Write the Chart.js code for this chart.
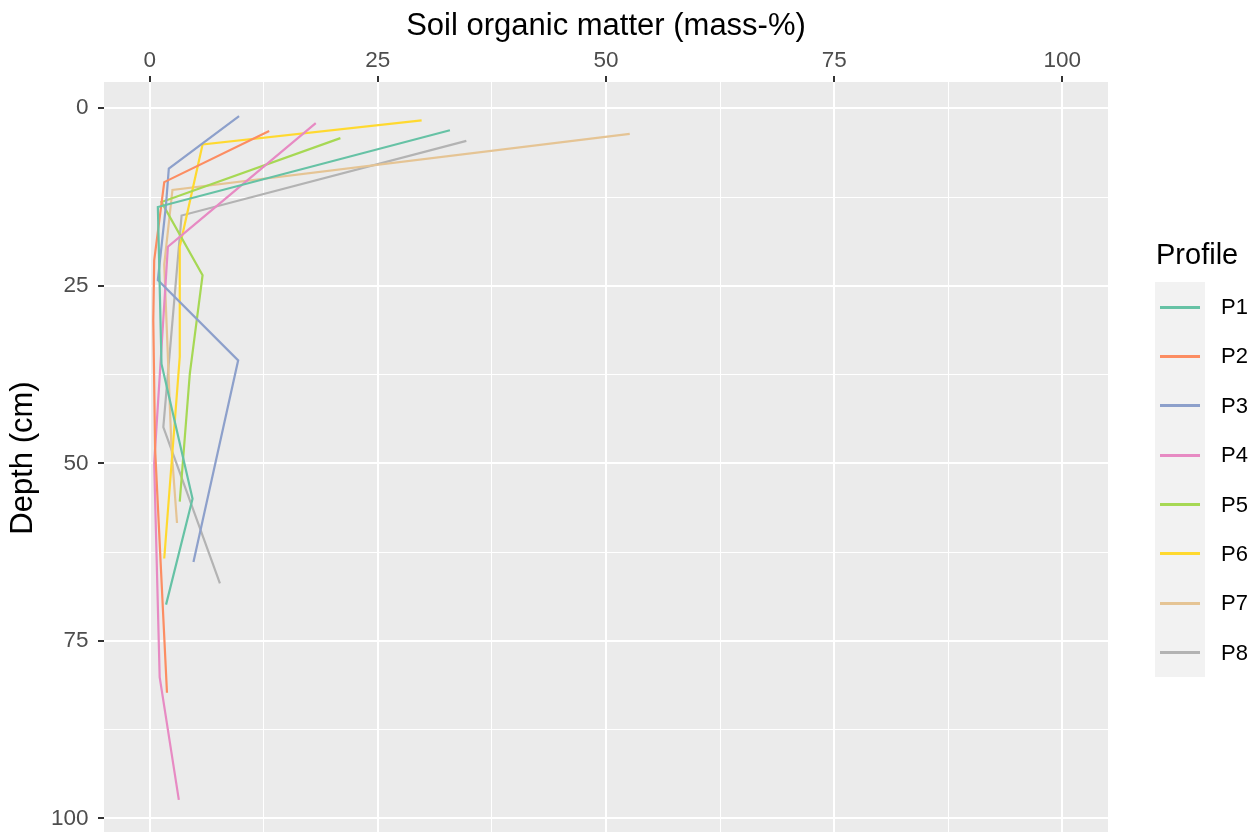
<!DOCTYPE html>
<html>
<head>
<meta charset="utf-8">
<script src="https://cdn.jsdelivr.net/npm/chart.js@4.4.1/dist/chart.umd.min.js"></script>
<style>
  html, body { margin: 0; padding: 0; background: #ffffff; overflow: hidden; width: 1260px; height: 832px; }
  #wrap { position: relative; width: 1260px; height: 840px; }
  #c { position: absolute; left: 0; top: 0; }
  #legend { position: absolute; left: 1155px; top: 232px; font-family: "Liberation Sans", Arial, sans-serif; }
  #legend .ttl { font-size: 29px; color: #000; height: 50px; line-height: 44px; margin-left: 1px; }
  #legend .keys { position: absolute; left: 0; top: 50px; width: 50px; background: #F2F2F2; }
  #legend .row { position: relative; height: 49.4px; }
  #legend .row .ln { position: absolute; left: 5px; width: 40px; height: 3px; top: 23.5px; }
  #legend .lbl { position: absolute; left: 66px; font-size: 22px; color: #000; height: 49.4px; line-height: 49.4px; white-space: nowrap; }
</style>
</head>
<body>
<div id="wrap">
  <canvas id="c" width="1260" height="840"></canvas>
  <div id="legend"></div>
</div>
<script>
// ---- data ----
const profiles = ['P1', 'P2', 'P3', 'P4', 'P5', 'P6', 'P7', 'P8'];
const colors   = ['#66C2A5', '#FC8D62', '#8DA0CB', '#E78AC3', '#A6D854', '#FFD92F', '#E5C494', '#B3B3B3'];

const p1Som   = [32.9, 0.9, 1.3, 4.7, 1.8];
const p1Depth = [3.1, 13.9, 36.0, 55.0, 69.9];
const p2Som   = [13.1, 1.6, 0.5, 0.4, 0.6, 1.9];
const p2Depth = [3.2, 10.4, 21.4, 29.9, 48.0, 82.3];
const p3Som   = [9.8, 2.1, 1.8, 0.9, 9.7, 4.8];
const p3Depth = [1.1, 8.5, 13.5, 24.2, 35.5, 63.9];
const p4Som   = [18.2, 3.5, 2.0, 0.5, 1.1, 3.2];
const p4Depth = [2.1, 17.9, 19.5, 50.0, 80.1, 97.4];
const p5Som   = [20.9, 1.3, 5.8, 4.4, 3.3];
const p5Depth = [4.2, 13.2, 23.5, 37.4, 55.4];
const p6Som   = [29.8, 5.8, 3.3, 3.3, 1.6];
const p6Depth = [1.7, 5.1, 19.5, 35.0, 63.4];
const p7Som   = [52.6, 2.5, 1.6, 2.4, 3.0];
const p7Depth = [3.6, 11.5, 22.0, 48.0, 58.4];
const p8Som   = [34.7, 3.5, 1.5, 7.7];
const p8Depth = [4.6, 15.1, 44.9, 66.9];

const somSeries   = [p1Som, p2Som, p3Som, p4Som, p5Som, p6Som, p7Som, p8Som];
const depthSeries = [p1Depth, p2Depth, p3Depth, p4Depth, p5Depth, p6Depth, p7Depth, p8Depth];

const xTickLabels = [0, 25, 50, 75, 100];
const yTickLabels = [0, 25, 50, 75, 100];
const xTitle = 'Soil organic matter (mass-%)';
const yTitle = 'Depth (cm)';
const legendTitle = 'Profile';

// ---- chart ----
const FONT = '"Liberation Sans", Arial, sans-serif';
const datasets = profiles.map((p, i) => ({
  label: p,
  data: somSeries[i].map((v, k) => ({ x: v, y: depthSeries[i][k] })),
  borderColor: colors[i],
  backgroundColor: colors[i],
  borderWidth: 2.2,
  pointRadius: 0,
  pointHoverRadius: 0,
  showLine: true,
  fill: false,
  tension: 0
}));

function withMinor(list) {
  const out = [];
  for (let i = 0; i < list.length; i++) {
    out.push({ value: list[i] });
    if (i < list.length - 1) out.push({ value: (list[i] + list[i + 1]) / 2 });
  }
  return out;
}
const isMajor = (list, v) => list.indexOf(v) !== -1;
const noPad = s => { s.paddingTop = 0; s.paddingBottom = 0; s.paddingLeft = 0; s.paddingRight = 0; };

const bgPlugin = {
  id: 'panelBg',
  beforeDraw(chart) {
    const { ctx, chartArea: a } = chart;
    ctx.save();
    ctx.fillStyle = '#EBEBEB';
    ctx.fillRect(a.left, a.top, a.right - a.left, a.bottom - a.top);
    ctx.restore();
  }
};

new Chart(document.getElementById('c'), {
  type: 'scatter',
  data: { datasets },
  plugins: [bgPlugin],
  options: {
    responsive: false,
    animation: false,
    devicePixelRatio: 1,
    layout: { padding: { left: 0, top: 0, right: 152, bottom: 6 } },
    plugins: { legend: { display: false }, tooltip: { enabled: false } },
    scales: {
      x: {
        type: 'linear',
        position: 'top',
        min: -5,
        max: 105,
        afterBuildTicks: s => { s.ticks = withMinor(xTickLabels); },
        afterFit: s => { s.height = 82; noPad(s); },
        border: { display: false },
        grid: {
          color: '#FFFFFF',
          lineWidth: c => isMajor(xTickLabels, c.tick.value) ? 2 : 1,
          tickColor: c => isMajor(xTickLabels, c.tick.value) ? '#333333' : 'rgba(0,0,0,0)',
          tickWidth: 2,
          tickLength: 6,
          drawTicks: true
        },
        ticks: {
          autoSkip: false,
          maxRotation: 0,
          padding: 2,
          color: '#4D4D4D',
          font: { family: FONT, size: 22.5 },
          callback: v => isMajor(xTickLabels, v) ? String(v) : ''
        },
        title: {
          display: true,
          text: xTitle,
          color: '#000000',
          font: { family: FONT, size: 31 },
          padding: { top: 8, bottom: 0 }
        }
      },
      y: {
        type: 'linear',
        position: 'left',
        reverse: true,
        min: -3.7,
        max: 102.2,
        afterBuildTicks: s => { s.ticks = withMinor(yTickLabels); },
        afterFit: s => { s.width = 104; noPad(s); },
        border: { display: false },
        grid: {
          color: '#FFFFFF',
          lineWidth: c => isMajor(yTickLabels, c.tick.value) ? 2 : 1,
          tickColor: c => isMajor(yTickLabels, c.tick.value) ? '#333333' : 'rgba(0,0,0,0)',
          tickWidth: 2,
          tickLength: 6,
          drawTicks: true
        },
        ticks: {
          autoSkip: false,
          padding: 9.5,
          color: '#4D4D4D',
          font: { family: FONT, size: 22.5 },
          callback: v => isMajor(yTickLabels, v) ? String(v) : ''
        },
        title: {
          display: true,
          text: yTitle,
          color: '#000000',
          font: { family: FONT, size: 31 },
          padding: { top: 5, bottom: 0 }
        }
      }
    }
  }
});

// ---- legend (built from the same arrays) ----
const lg = document.getElementById('legend');
const t = document.createElement('div');
t.className = 'ttl';
t.textContent = legendTitle;
lg.appendChild(t);
const keys = document.createElement('div');
keys.className = 'keys';
profiles.forEach((p, i) => {
  const row = document.createElement('div');
  row.className = 'row';
  const ln = document.createElement('div');
  ln.className = 'ln';
  ln.style.background = colors[i];
  row.appendChild(ln);
  const lb = document.createElement('div');
  lb.className = 'lbl';
  lb.textContent = p;
  row.appendChild(lb);
  keys.appendChild(row);
});
lg.appendChild(keys);
</script>
</body>
</html>
